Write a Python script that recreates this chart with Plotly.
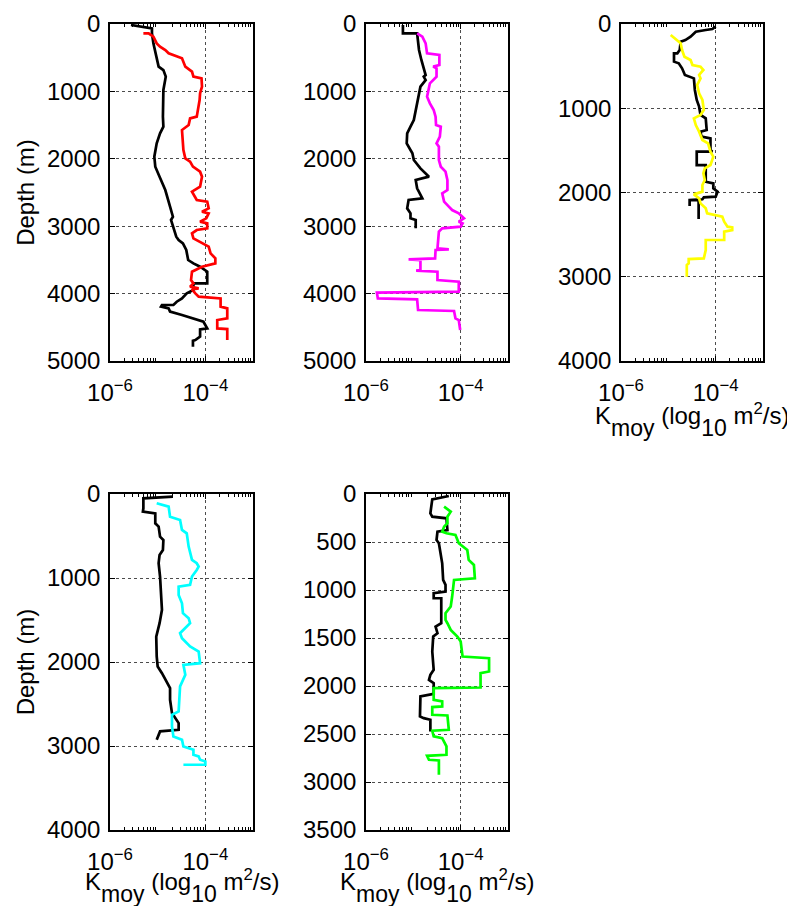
import plotly.graph_objects as go

# ---------------- data (depth in m, log10 of K_moy in m^2/s) ----------------
p1_black_depth = [15,64,138,287,633,683,781,979,1375,1523,1622,1771,1968,2117,2265,2463,2710,2859,2908,3057,3156,3205,3254,3353,3502,3551,3601,3675,3848,3848,3947,3996,4071,4120,4169,4169,4194,4219,4268,4318,4367,4417,4516,4530,4639,4689,4699,4788]
p1_black_logK = [-5.56,-5.12,-5.12,-5.09,-4.98,-4.88,-4.83,-4.88,-4.89,-4.88,-4.95,-5.02,-5.07,-5.05,-4.96,-4.84,-4.74,-4.68,-4.72,-4.65,-4.61,-4.56,-4.47,-4.40,-4.36,-4.25,-4.11,-3.96,-3.96,-4.25,-4.25,-4.39,-4.49,-4.60,-4.67,-4.91,-4.93,-4.77,-4.74,-4.49,-4.28,-4.04,-3.96,-4.11,-4.11,-4.21,-4.26,-4.26]
p1_red_depth = [138,138,188,287,336,386,435,460,509,633,707,781,806,930,1029,1128,1227,1375,1400,1499,1573,1721,1870,1993,2043,2117,2191,2265,2414,2488,2611,2636,2735,2785,2809,2884,2933,2958,3032,3057,3106,3180,3230,3304,3403,3477,3551,3601,3675,3799,3848,3897,3922,3937,3996,4046,4071,4194,4219,4367,4392,4516,4526,4689]
p1_red_logK = [-5.30,-5.19,-5.09,-5.02,-4.95,-4.84,-4.77,-4.67,-4.49,-4.42,-4.28,-4.25,-4.08,-4.07,-4.11,-4.12,-4.14,-4.18,-4.32,-4.35,-4.49,-4.47,-4.46,-4.42,-4.32,-4.26,-4.11,-4.07,-4.11,-4.28,-4.18,-3.96,-3.93,-4.07,-3.93,-3.98,-4.11,-3.96,-3.96,-4.18,-4.28,-4.25,-4.11,-3.93,-3.89,-3.79,-3.79,-4.07,-4.28,-4.30,-4.25,-4.32,-4.14,-4.28,-4.21,-4.14,-3.68,-3.68,-3.54,-3.54,-3.75,-3.75,-3.54,-3.54]

p2_black_depth = [15,138,138,386,534,633,707,757,781,831,930,1128,1326,1424,1523,1622,1771,1820,1919,2018,2142,2265,2315,2438,2587,2611,2735,2809,2884,2908,3032]
p2_black_logK = [-5.22,-5.22,-4.92,-4.88,-4.83,-4.79,-4.76,-4.74,-4.78,-4.74,-4.85,-4.90,-4.95,-4.99,-5.06,-5.13,-5.14,-5.10,-5.02,-4.99,-4.85,-4.67,-4.95,-4.92,-4.81,-5.10,-5.13,-5.06,-5.06,-4.95,-4.95]
p2_magenta_depth = [138,188,287,435,460,608,633,658,781,880,1078,1177,1276,1375,1499,1523,1672,1771,1820,2018,2117,2191,2315,2463,2513,2636,2710,2760,2809,2884,2933,2958,3007,3032,3081,3329,3343,3353,3477,3492,3502,3650,3660,3675,3799,3823,3972,3986,4071,4085,4244,4258,4367,4392,4541]
p2_magenta_logK = [-4.92,-4.81,-4.74,-4.71,-4.45,-4.45,-4.58,-4.51,-4.51,-4.65,-4.71,-4.65,-4.57,-4.53,-4.52,-4.42,-4.44,-4.51,-4.46,-4.46,-4.42,-4.32,-4.28,-4.28,-4.39,-4.35,-4.25,-4.18,-4.04,-3.93,-4.04,-3.96,-4.00,-4.39,-4.46,-4.49,-4.25,-4.53,-4.54,-5.10,-4.85,-4.85,-4.94,-4.49,-4.49,-4.04,-4.04,-5.77,-5.75,-4.92,-4.90,-4.14,-4.11,-4.04,-4.01]

p3_black_depth = [30,59,71,91,150,190,210,309,348,348,447,467,526,605,645,783,902,981,1080,1120,1258,1278,1337,1357,1496,1515,1515,1674,1674,1872,1891,1951,1990,2050,2058,2080,2090,2160,2090,2090,2315]
p3_black_logK = [-4.00,-4.07,-4.21,-4.42,-4.53,-4.64,-4.74,-4.76,-4.81,-4.88,-4.88,-4.78,-4.71,-4.65,-4.46,-4.44,-4.40,-4.35,-4.32,-4.21,-4.19,-4.32,-4.30,-4.11,-4.11,-4.07,-4.40,-4.40,-4.21,-4.21,-4.05,-4.05,-3.96,-4.00,-4.25,-4.28,-4.55,-4.55,-4.55,-4.36,-4.36]
p3_yellow_depth = [131,190,229,309,388,427,487,507,546,605,645,724,823,902,1021,1080,1120,1199,1278,1377,1417,1515,1575,1674,1713,1773,1852,1911,1990,2022,2070,2129,2188,2248,2267,2287,2347,2406,2414,2446,2465,2564,2564,2683,2782,2790,2841,2861,2999]
p3_yellow_logK = [-4.95,-4.81,-4.74,-4.71,-4.66,-4.53,-4.49,-4.32,-4.26,-4.35,-4.32,-4.39,-4.35,-4.28,-4.25,-4.32,-4.46,-4.42,-4.35,-4.28,-4.16,-4.11,-4.05,-4.11,-4.23,-4.26,-4.23,-4.28,-4.28,-4.46,-4.35,-4.32,-4.21,-4.18,-4.04,-3.86,-3.82,-3.75,-3.65,-3.65,-3.82,-3.82,-4.21,-4.21,-4.25,-4.57,-4.57,-4.61,-4.61]

p4_black_depth = [32,52,170,210,230,349,388,507,547,666,725,824,983,1379,1538,1697,1934,2053,2133,2212,2311,2450,2608,2727,2807,2826,2925]
p4_black_logK = [-4.68,-5.30,-5.30,-5.31,-5.05,-5.05,-4.98,-4.95,-4.88,-4.89,-4.96,-4.98,-4.95,-4.91,-4.96,-5.03,-5.02,-5.00,-4.91,-4.84,-4.74,-4.74,-4.70,-4.56,-4.56,-4.95,-5.02]
p4_cyan_depth = [111,151,270,309,428,468,626,785,824,864,904,983,1082,1102,1201,1300,1419,1479,1538,1598,1657,1716,1816,1875,2014,2034,2152,2291,2489,2588,2628,2767,2886,2926,3005,3044,3104,3124,3163,3183,3223,3223]
p4_cyan_logK = [-5.02,-4.77,-4.74,-4.53,-4.49,-4.39,-4.35,-4.28,-4.18,-4.14,-4.18,-4.28,-4.32,-4.56,-4.56,-4.49,-4.47,-4.35,-4.32,-4.42,-4.53,-4.49,-4.32,-4.14,-4.11,-4.46,-4.42,-4.53,-4.56,-4.56,-4.70,-4.70,-4.67,-4.49,-4.46,-4.25,-4.25,-4.14,-4.11,-4.00,-4.00,-4.46]

p5_black_depth = [21,56,201,236,253,375,392,479,513,617,722,895,947,1016,1034,1086,1086,1346,1381,1450,1485,1641,1832,1884,1936,1970,2081,2109,2317,2335,2352,2473]
p5_black_logK = [-4.25,-4.60,-4.64,-4.60,-4.30,-4.28,-4.49,-4.51,-4.46,-4.42,-4.39,-4.37,-4.32,-4.32,-4.57,-4.57,-4.41,-4.41,-4.53,-4.49,-4.58,-4.60,-4.57,-4.64,-4.67,-4.57,-4.57,-4.85,-4.86,-4.78,-4.64,-4.64]
p5_green_depth = [132,184,236,305,340,392,409,427,513,583,687,739,878,895,1068,1172,1242,1311,1346,1415,1485,1537,1693,1710,1849,1866,2016,2022,2144,2161,2213,2220,2300,2307,2456,2466,2525,2543,2629,2716,2727,2768,2775,2924]
p5_green_logK = [-4.35,-4.21,-4.28,-4.28,-4.35,-4.39,-4.30,-4.11,-4.04,-3.86,-3.83,-3.72,-3.70,-4.14,-4.18,-4.21,-4.32,-4.32,-4.28,-4.21,-4.07,-4.00,-3.96,-3.40,-3.40,-3.58,-3.58,-4.57,-4.57,-4.39,-4.39,-4.60,-4.60,-4.28,-4.25,-4.60,-4.57,-4.39,-4.30,-4.30,-4.71,-4.67,-4.46,-4.46]

x_tick_values = [1e-6, 1e-4]
x_tick_labels = ["10<sup>\u22126</sup>", "10<sup>\u22124</sup>"]
depth_max = [5000, 5000, 4000, 4000, 3500]
depth_step = [1000, 1000, 1000, 1000, 500]

# ---------------- layout ----------------
# the page body has an 8 px margin: the figure is placed at (8, 8) in the window
OFF = 8
W, H = 795 - OFF, 906 - OFF
FONT = "Liberation Sans, Arial, Helvetica, sans-serif"
FS = 24

def px_x(a, b):
    return [(a - OFF) / W, (b - OFF) / W]

def px_y(top, bottom):
    return [1 - (bottom - OFF) / H, 1 - (top - OFF) / H]

domains = [
    (px_x(110, 253), px_y(24, 361)),
    (px_x(366, 508), px_y(24, 361)),
    (px_x(621, 763), px_y(24, 361)),
    (px_x(110, 253), px_y(494, 830)),
    (px_x(366, 508), px_y(494, 830)),
]

series = [
    [(p1_black_depth, p1_black_logK, "black"), (p1_red_depth, p1_red_logK, "#ff0000")],
    [(p2_black_depth, p2_black_logK, "black"), (p2_magenta_depth, p2_magenta_logK, "#ff00ff")],
    [(p3_black_depth, p3_black_logK, "black"), (p3_yellow_depth, p3_yellow_logK, "#ffff00")],
    [(p4_black_depth, p4_black_logK, "black"), (p4_cyan_depth, p4_cyan_logK, "#00ffff")],
    [(p5_black_depth, p5_black_logK, "black"), (p5_green_depth, p5_green_logK, "#00ff00")],
]

minor_vals = [m * 10 ** e for e in (-6, -5, -4) for m in range(2, 10)]

fig = go.Figure()
for i, pan in enumerate(series):
    sfx = "" if i == 0 else str(i + 1)
    for depth, logk, col in pan:
        fig.add_trace(go.Scatter(
            x=[10 ** v for v in logk], y=depth, mode="lines",
            line=dict(color=col, width=2.7), xaxis="x" + sfx, yaxis="y" + sfx,
            showlegend=False, hoverinfo="skip"))

sub_style = 'style="font-size:23px;baseline-shift:-7px"'
xtitle = ('K<sub><span %s>moy</span></sub> (log<sub><span %s>10</span></sub> '
          'm<sup>2</sup>/s)') % (sub_style, sub_style)

layout = dict(
    width=W, height=H, margin=dict(l=0, r=0, t=0, b=0),
    paper_bgcolor="white", plot_bgcolor="white", showlegend=False,
    font=dict(family=FONT, size=FS, color="black"),
)
for i in range(5):
    sfx = "" if i == 0 else str(i + 1)
    dx, dy = domains[i]
    xa = dict(
        type="log", range=[-6, -3], domain=dx, anchor="y" + sfx, automargin=False,
        tickvals=x_tick_values, ticktext=x_tick_labels,
        showgrid=True, gridcolor="rgba(0,0,0,0.7)", griddash="dot", gridwidth=1,
        ticks="inside", ticklen=5, tickwidth=1, tickcolor="black",
        showline=True, linecolor="black", linewidth=1.6, mirror="ticks",
        minor=dict(ticks="inside", ticklen=3, tickwidth=1, tickcolor="black",
                   tickvals=minor_vals, showgrid=False),
        tickfont=dict(family=FONT, size=FS, color="black"),
        zeroline=False, ticklabelstandoff=9,
    )
    ya = dict(
        range=[depth_max[i], 0], domain=dy, anchor="x" + sfx, automargin=False,
        tick0=0, dtick=depth_step[i],
        showgrid=True, gridcolor="rgba(0,0,0,0.7)", griddash="dot", gridwidth=1,
        ticks="inside", ticklen=5, tickwidth=1, tickcolor="black",
        showline=True, linecolor="black", linewidth=1.6, mirror="ticks",
        tickfont=dict(family=FONT, size=FS, color="black"),
        zeroline=False, ticklabelstandoff=3,
    )
    if i in (0, 3):
        ya["title"] = dict(text="Depth (m)", font=dict(family=FONT, size=FS, color="black"), standoff=6)
    layout["xaxis" + sfx] = xa
    layout["yaxis" + sfx] = ya

# x-axis titles as annotations (panels 3, 4, 5)
annots = []
for i, top_px in ((2, 397), (3, 863), (4, 863)):
    dx = domains[i][0]
    annots.append(dict(
        text=xtitle, xref="paper", yref="paper", x=(dx[0] + dx[1]) / 2,
        y=1 - (top_px - OFF) / H, xanchor="center", yanchor="top",
        showarrow=False, font=dict(family=FONT, size=FS, color="black")))
layout["annotations"] = annots

fig.update_layout(**layout)
fig.write_html("out.html")
